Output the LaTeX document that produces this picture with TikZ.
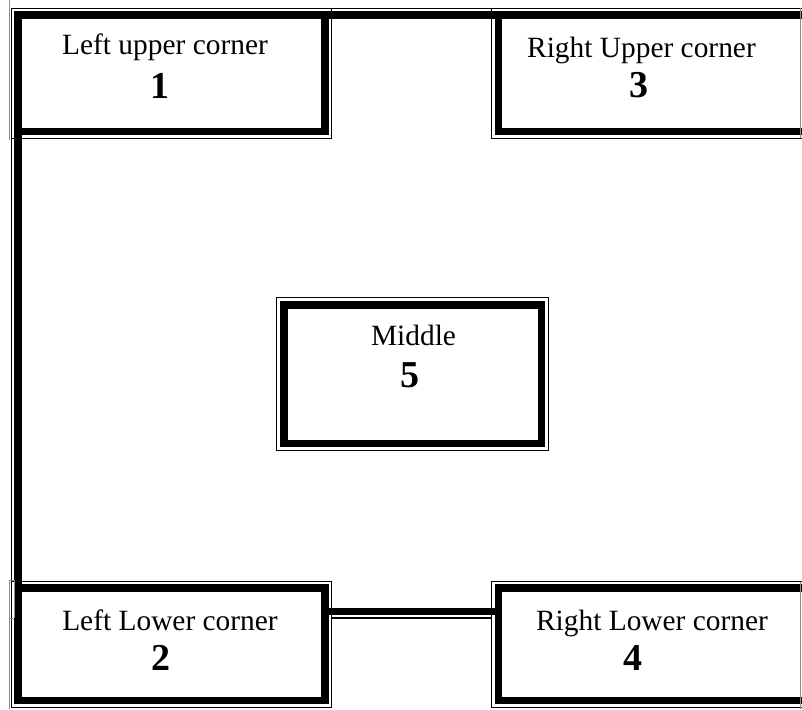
\documentclass[tikz,border=0pt]{standalone}
\usepackage{fontspec}
\setmainfont{Liberation Serif}
\newcommand\outlinebox[2]{\draw[thinl] ([shift={(-#2,#2)}]#1.north west) rectangle ([shift={(#2,-#2)}]#1.south east);}
\begin{document}
\begin{tikzpicture}[x=1pt,y=-1pt,
  box/.style={draw, line width=7.5pt, rectangle, outer sep=0pt, inner sep=0pt},
  thinl/.style={line width=1.2pt},
  conn/.style={line width=7.5pt},
  lbl/.style={anchor=base, inner sep=0pt, font=\fontsize{29.4}{31}\selectfont},
  num/.style={anchor=base, inner sep=0pt, font=\fontsize{38}{40}\selectfont\bfseries},
  art/.style={line width=0.8pt, black!45}]
\useasboundingbox (0,0) rectangle (802,709);
\fill[white] (0,0) rectangle (802,709);
\clip (0,0) rectangle (802,709);
% boxes
\node[box, minimum width=307pt, minimum height=116.5pt] (b1) at (171.5,73.25) {};
\node[box, minimum width=313.5pt, minimum height=116.5pt] (b3) at (655.25,73.25) {};
\node[box, minimum width=307pt, minimum height=112.5pt] (b2) at (171.5,644.25) {};
\node[box, minimum width=313.5pt, minimum height=112.5pt] (b4) at (655.25,644.25) {};
\node[box, minimum width=257.5pt, minimum height=138.5pt] (b5) at (412.75,374.25) {};
% thin outer lines
\outlinebox{b1}{6.8pt}
\outlinebox{b3}{6.8pt}
\outlinebox{b2}{6.8pt}
\outlinebox{b4}{6.8pt}
\outlinebox{b5}{7.2pt}
% connectors
\draw[conn] (b1.north east) -- (b3.north west);
\draw[thinl] ([yshift=6.8pt]b1.north east) -- ([yshift=6.8pt]b3.north west);
\draw[conn] (b1.south west) -- (b2.north west);
\draw[thinl] ([xshift=-6.8pt]b1.south west) -- ([xshift=-6.8pt]b2.north west);
\draw[conn] ([yshift=32.75pt]b2.east) -- ([yshift=32.75pt]b4.west);
\draw[thinl] ([shift={(6.8pt,26.2pt)}]b2.east) -- ([shift={(-6.8pt,26.2pt)}]b4.west);
% faint artifacts
\draw[art] (9,0) -- (9,140);
\draw[art] (9,580) -- (9,709);
\draw[art] (14,580) -- (14,618);
\draw[art] (9,580) -- (14,580) (9,618) -- (14,618);
\draw[art] (800,8) -- (800,138);
\draw[art] (800,582) -- (800,709);
% texts
\node[lbl] (t1) at (165,55) {Left upper corner};
\node[num] (n1) at (160,98) {1};
\node[lbl] (t3) at (641.5,57) {Right Upper corner};
\node[num] (n3) at (639,97) {3};
\node[lbl] (t2) at (170,630) {Left Lower corner};
\node[num] (n2) at (161,670) {2};
\node[lbl] (t4) at (652,630) {Right Lower corner};
\node[num] (n4) at (632.5,670) {4};
\node[lbl] (t5) at (413.5,345) {Middle};
\node[num] (n5) at (410,387) {5};
\end{tikzpicture}
\end{document}
